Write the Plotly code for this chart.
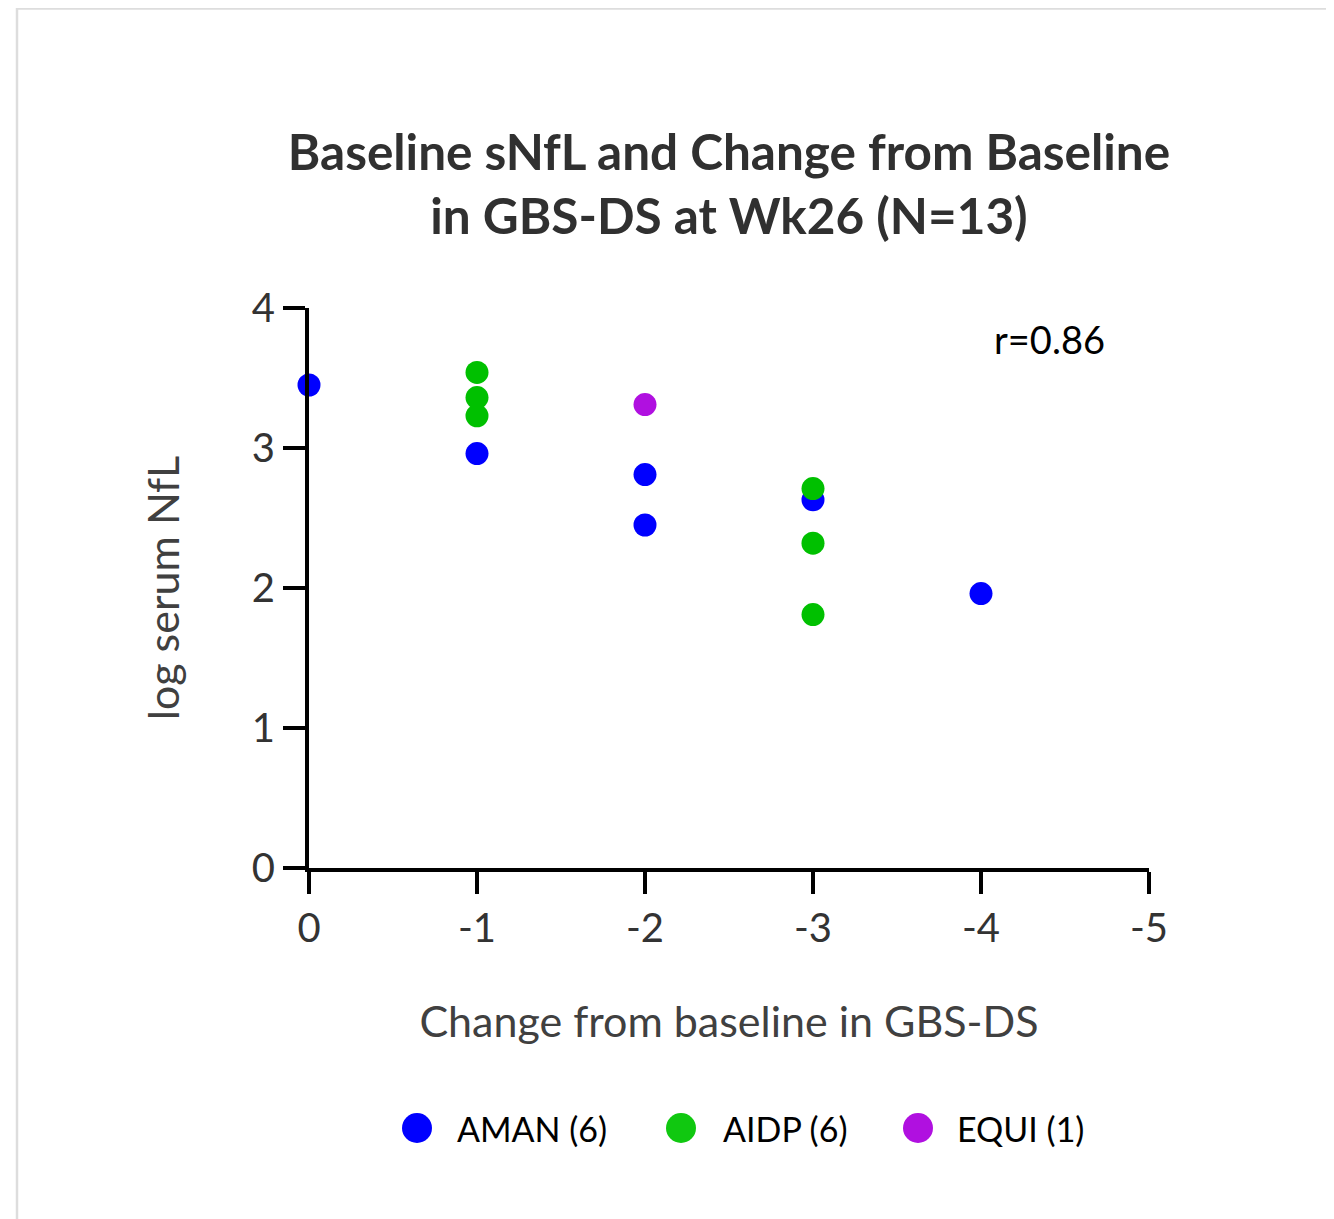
import plotly.graph_objects as go

# Data
aman_x = [0, -1, -2, -2, -3, -4]
aman_y = [3.45, 2.96, 2.81, 2.45, 2.63, 1.96]
aidp_x = [-1, -1, -1, -3, -3, -3]
aidp_y = [3.54, 3.36, 3.23, 2.71, 2.32, 1.81]
equi_x = [-2]
equi_y = [3.31]

groups = ["AMAN (6)", "AIDP (6)", "EQUI (1)"]
colors = ["#0000FF", "#00C000", "#B010E0"]
legend_colors = ["#0000FF", "#10C810", "#B010E0"]
x_ticks = [0, -1, -2, -3, -4, -5]
y_ticks = [0, 1, 2, 3, 4]

W, H = 1334, 1219
OFF = 8  # page offset of the figure
L = 309 - OFF
T = 308 - OFF
R = W - (1149 - OFF)
B = H - (868 - OFF)
FONT = "Lato"

fig = go.Figure()
for xs, ys, name, c in [(aman_x, aman_y, groups[0], colors[0]),
                        (aidp_x, aidp_y, groups[1], colors[1]),
                        (equi_x, equi_y, groups[2], colors[2])]:
    fig.add_trace(go.Scatter(x=xs, y=ys, mode="markers", name=name,
                             marker=dict(size=23, color=c, line=dict(width=0)),
                             cliponaxis=False, showlegend=False))

pw = W - L - R
ph = H - T - B
def px_x(p):
    return (p - OFF - L) / pw
def px_y(p):
    return (H - B - (p - OFF)) / ph

shapes = []
# light border
shapes.append(dict(type="line", xref="paper", yref="paper", x0=px_x(17), x1=px_x(1360),
                   y0=px_y(8.5), y1=px_y(8.5), line=dict(color="#DDDDDD", width=2.5)))
shapes.append(dict(type="line", xref="paper", yref="paper", x0=px_x(17), x1=px_x(17),
                   y0=px_y(8), y1=px_y(1240), line=dict(color="#DDDDDD", width=2.5)))

annotations = [dict(text="r=0.86", xref="paper", yref="paper", x=px_x(1049), y=px_y(339),
                    xanchor="center", yanchor="middle", showarrow=False,
                    font=dict(family=FONT, size=38, color="#000000"))]

# manual legend
leg_dot_x = [417, 681, 918]
leg_text_x = [455, 721, 955]
leg_y = 1128
for i in range(3):
    shapes.append(dict(type="circle", xref="paper", yref="paper", xsizemode="pixel",
                       ysizemode="pixel", xanchor=px_x(leg_dot_x[i]), yanchor=px_y(leg_y),
                       x0=-15, x1=15, y0=-15, y1=15,
                       fillcolor=legend_colors[i], line=dict(width=0)))
    annotations.append(dict(text=groups[i], xref="paper", yref="paper",
                            x=px_x(leg_text_x[i]), y=px_y(leg_y), xanchor="left",
                            yanchor="middle", showarrow=False,
                            font=dict(family=FONT, size=34, color="#000000")))

fig.update_layout(
    width=W, height=H, autosize=False,
    margin=dict(l=L, r=R, t=T, b=B),
    paper_bgcolor="white", plot_bgcolor="white",
    title=dict(text="<b>Baseline sNfL and Change from Baseline<br>in GBS-DS at Wk26 (N=13)</b>",
               x=0.5, xref="paper", xanchor="center",
               y=1 - (170 - OFF) / H, yref="container", yanchor="middle",
               font=dict(family=FONT, size=49.5, color="#303030")),
    shapes=shapes, annotations=annotations,
    showlegend=False,
)
fig.update_xaxes(range=[0, -5], tickvals=x_ticks, ticktext=[str(v) for v in x_ticks],
                 showgrid=False, zeroline=False, showline=True, linecolor="black", linewidth=4,
                 ticks="outside", ticklen=22, tickwidth=4, tickcolor="black",
                 tickfont=dict(family=FONT, size=40, color="#333333"),
                 title=dict(text="Change from baseline in GBS-DS", standoff=58,
                            font=dict(family=FONT, size=43, color="#404040")))
fig.update_yaxes(range=[0, 4], tickvals=y_ticks,
                 showgrid=False, zeroline=False, showline=True, linecolor="black", linewidth=4,
                 ticks="outside", ticklen=22, tickwidth=4, tickcolor="black",
                 tickfont=dict(family=FONT, size=40, color="#333333"),
                 title=dict(text="log serum NfL", standoff=60,
                            font=dict(family=FONT, size=43, color="#404040")))

fig.write_html("out.html")
